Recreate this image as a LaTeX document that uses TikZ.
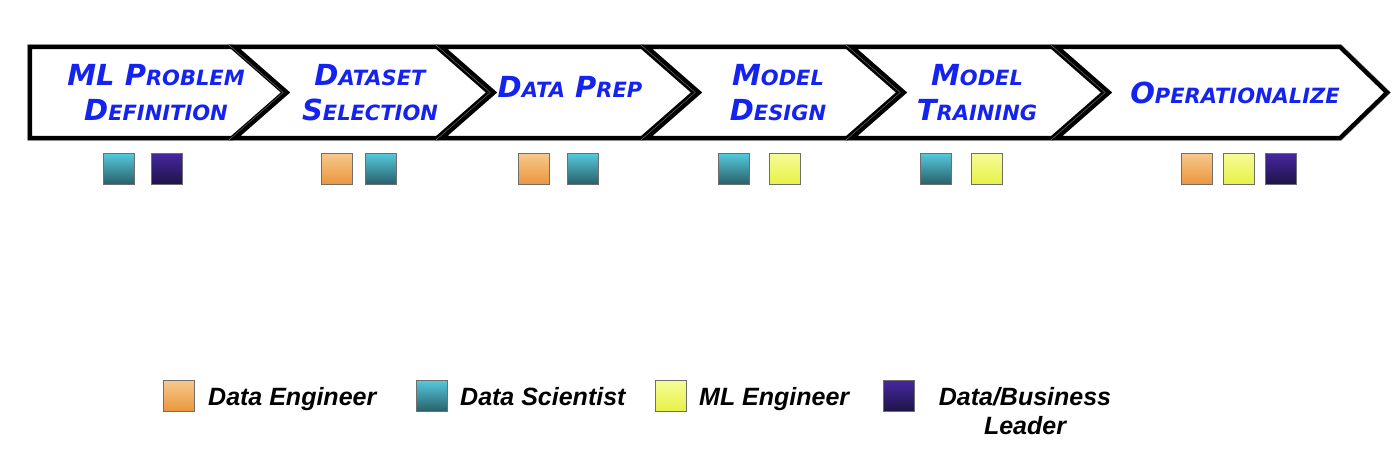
\documentclass[tikz,border=0pt]{standalone}
\usepackage{fontspec}
\newfontfamily\chevfont{DejaVu Sans}
\newfontfamily\legfont{Liberation Sans}
\definecolor{blueink}{RGB}{20,35,240}
\definecolor{tealT}{RGB}{85,200,220}
\definecolor{tealB}{RGB}{40,95,105}
\definecolor{navyT}{RGB}{70,40,160}
\definecolor{navyB}{RGB}{30,20,70}
\definecolor{orangeT}{RGB}{246,200,140}
\definecolor{orangeB}{RGB}{235,150,60}
\definecolor{yellowT}{RGB}{246,252,150}
\definecolor{yellowB}{RGB}{230,242,70}
\definecolor{sqgray}{RGB}{110,110,110}
\newcommand\smc[1]{{\fontsize{21}{21}\selectfont #1}}
\begin{document}
\begin{tikzpicture}[x=1pt,y=-1pt,
  chev/.style={draw=black, line width=4.2pt, line join=miter, fill=white,
    preaction={draw=black!55, line width=5.4pt, line join=miter}},
  lbl/.style={text=blueink, font=\chevfont\bfseries\itshape\fontsize{29}{35}\selectfont, align=center, inner sep=0pt},
  role/.style={draw=sqgray, line width=1.3pt, minimum size=31pt, inner sep=0pt},
  sqDE/.style={role, top color=orangeT, bottom color=orangeB},
  sqDS/.style={role, top color=tealT, bottom color=tealB},
  sqML/.style={role, top color=yellowT, bottom color=yellowB},
  sqDL/.style={role, top color=navyT, bottom color=navyB},
  leg/.style={font=\legfont\bfseries\itshape\fontsize{25}{29}\selectfont, inner sep=0pt}]
\useasboundingbox (0,0) rectangle (1400,457);
% chevrons
\draw[chev] (30,47) -- (232,47) -- (284,92.5) -- (232,138) -- (30,138) -- cycle;
\draw[chev] (235,47) -- (437,47) -- (489,92.5) -- (437,138) -- (235,138) -- (287,92.5) -- cycle;
\draw[chev] (442,47) -- (642,47) -- (694,92.5) -- (642,138) -- (442,138) -- (494,92.5) -- cycle;
\draw[chev] (647,47) -- (847,47) -- (899,92.5) -- (847,138) -- (647,138) -- (699,92.5) -- cycle;
\draw[chev] (852,47) -- (1052,47) -- (1104,92.5) -- (1052,138) -- (852,138) -- (904,92.5) -- cycle;
\draw[chev] (1057,47) -- (1340,47) -- (1387,92.5) -- (1340,138) -- (1057,138) -- (1109,92.5) -- cycle;
% chevron labels
\node[lbl] (t1) at (156,92.5) {ML P\smc{ROBLEM}\\D\smc{EFINITION}};
\node[lbl] (t2) at (370,92.5) {D\smc{ATASET}\\S\smc{ELECTION}};
\node[lbl] (t3) at (570,87) {D\smc{ATA} P\smc{REP}};
\node[lbl] (t4) at (778,92.5) {M\smc{ODEL}\\D\smc{ESIGN}};
\node[lbl] (t5) at (977,92.5) {M\smc{ODEL}\\T\smc{RAINING}};
\node[lbl] (t6) at (1235,93) {O\smc{PERATIONALIZE}};
% role squares
\node[sqDS] (s1a) at (119,169) {};
\node[sqDL] (s1b) at (167,169) {};
\node[sqDE] (s2a) at (337,169) {};
\node[sqDS] (s2b) at (381,169) {};
\node[sqDE] (s3a) at (534,169) {};
\node[sqDS] (s3b) at (583,169) {};
\node[sqDS] (s4a) at (734,169) {};
\node[sqML] (s4b) at (785,169) {};
\node[sqDS] (s5a) at (936,169) {};
\node[sqML] (s5b) at (987,169) {};
\node[sqDE] (s6a) at (1197,169) {};
\node[sqML] (s6b) at (1239,169) {};
\node[sqDL] (s6c) at (1281,169) {};
% legend
\node[sqDE] (l1) at (179,396) {};
\node[sqDS] (l2) at (432,396) {};
\node[sqML] (l3) at (671,396) {};
\node[sqDL] (l4) at (899,396) {};
\node[leg, anchor=base west] (lt1) at (208,405) {Data Engineer};
\node[leg, anchor=base west] (lt2) at (460,405) {Data Scientist};
\node[leg, anchor=base west] (lt3) at (699,405) {ML Engineer};
\node[leg, anchor=base, align=center] (lt4) at (1025,434) {Data/Business\\Leader};
\end{tikzpicture}
\end{document}
